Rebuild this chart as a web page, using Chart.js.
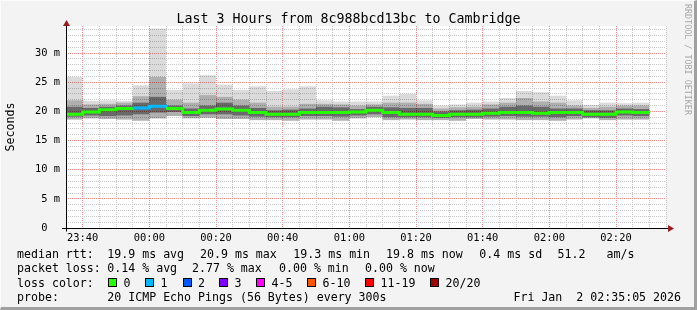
<!DOCTYPE html>
<html>
<head>
<meta charset="utf-8">
<script src="https://cdn.jsdelivr.net/npm/chart.js@4.4.1/dist/chart.umd.min.js"></script>
<style>
  html, body { margin: 0; padding: 0; background: #f3f3f3; }
  #wrap { position: relative; width: 697px; height: 310px; overflow: hidden;
          font-family: "DejaVu Sans Mono", monospace; color: #000; }
  #chart { position: absolute; left: 0; top: 0; }
  .t { position: absolute; white-space: pre; font-size: 11.6px; line-height: 14px; }
  .box { position: absolute; width: 9px; height: 9px; box-sizing: border-box; border: 1px solid #000; }
  #title { position: absolute; left: 0; top: 11px; width: 697px; text-align: center;
           font-size: 13.3px; line-height: 16px; white-space: pre; }
  #mark { position: absolute; left: 683px; top: 4px; writing-mode: vertical-rl;
          font-size: 8.4px; color: #a8a8a8; white-space: pre; }
  #frame { position: absolute; left: 0; top: 0; width: 697px; height: 310px; box-sizing: border-box;
           border-style: solid; border-width: 1px 3px 3px 1px;
           border-color: #fcfcfc #a0a0a0 #a0a0a0 #fcfcfc; pointer-events: none; }
</style>
</head>
<body>
<div id="wrap">
  <canvas id="chart" width="697" height="310"></canvas>
  <div id="title">Last 3 Hours from 8c988bcd13bc to Cambridge</div>
  <div id="mark">RRDTOOL / TOBI OETIKER</div>
  <div id="legend"></div>
  <div id="frame"></div>
</div>
<script>
// 5 minute steps, bar start times
const times = ["23:35", "23:40", "23:45", "23:50", "23:55", "00:00", "00:05", "00:10", "00:15", "00:20",
  "00:25", "00:30", "00:35", "00:40", "00:45", "00:50", "00:55", "01:00", "01:05", "01:10",
  "01:15", "01:20", "01:25", "01:30", "01:35", "01:40", "01:45", "01:50", "01:55", "02:00",
  "02:05", "02:10", "02:15", "02:20", "02:25"];
const tickLabels = ["23:40", "00:00", "00:20", "00:40", "01:00", "01:20", "01:40", "02:00", "02:20"];

// rtt in ms
const medians = [19.5, 19.9, 20.3, 20.5, 20.6, 20.9, 20.5, 19.8, 20.2, 20.4, 20.2, 19.8, 19.5, 19.5, 19.8,
  19.8, 19.8, 19.9, 20.2, 19.8, 19.5, 19.5, 19.3, 19.5, 19.5, 19.7, 19.8, 19.8, 19.7, 19.8,
  19.8, 19.5, 19.5, 19.9, 19.8];
const maxRtt = [25.9, 21.8, 21.9, 21.8, 24.5, 34.2, 23.7, 24.8, 26.2, 24.6, 23.7, 24.3, 23.5, 23.8, 24.3,
  21.9, 21.7, 21.7, 21.7, 22.7, 23.0, 21.9, 21.0, 21.2, 21.5, 21.7, 22.3, 23.5, 23.3, 22.7,
  21.9, 21.1, 21.5, 21.4, 21.5];
const upperRtt = [21.9, 21.2, 21.3, 21.5, 22.6, 25.9, 22.0, 21.5, 22.8, 22.5, 22.0, 21.5, 20.8, 20.8, 21.3,
  21.3, 21.2, 21.0, 21.2, 21.5, 21.5, 21.3, 20.5, 20.7, 20.8, 21.2, 21.5, 22.3, 21.7, 21.5,
  21.0, 20.6, 20.8, 21.0, 21.0];
const hiQ = [20.8, 20.6, 20.8, 21.0, 21.5, 22.5, 21.0, 20.5, 21.0, 21.5, 21.0, 20.6, 20.2, 20.3, 20.5,
  20.8, 20.7, 20.4, 20.8, 20.7, 20.6, 20.6, 20.0, 20.2, 20.3, 20.5, 20.8, 21.0, 20.8, 20.5,
  20.5, 20.2, 20.2, 20.5, 20.4];
const loQ = [19.1, 19.3, 19.2, 19.3, 19.5, 19.8, 19.9, 19.2, 19.5, 19.5, 19.3, 19.1, 19.0, 19.0, 19.2,
  19.2, 19.1, 19.3, 19.5, 19.0, 19.0, 19.0, 18.9, 19.0, 19.0, 19.1, 19.2, 19.1, 19.1, 19.0,
  19.2, 19.0, 18.9, 19.3, 19.2];
const minRtt = [18.6, 18.8, 18.7, 18.6, 18.4, 18.8, 19.2, 18.8, 18.9, 18.7, 18.7, 18.5, 18.5, 18.4, 18.6,
  18.6, 18.4, 18.8, 19.0, 18.5, 18.6, 18.5, 18.5, 18.4, 18.7, 18.6, 18.6, 18.5, 18.5, 18.4,
  18.6, 18.8, 18.5, 18.6, 18.6];
// lost pings out of 20
const lossPings = [0, 0, 0, 0, 1, 1, 0, 0, 0, 0, 0, 0, 0, 0, 0, 0, 0, 0, 0, 0,
  0, 0, 0, 0, 0, 0, 0, 0, 0, 0, 0, 0, 0, 0, 0];

const lossLabels = ["0", "1", "2", "3", "4-5", "6-10", "11-19", "20/20"];
const lossColors = ["#26ff00", "#00b8ff", "#0059ff", "#7e00ff", "#ff00ff", "#ff5500", "#ff0000", "#a10000"];
const lossBounds = [0, 1, 2, 3, 5, 10, 19, 20];

function lossColor(n) {
  for (let k = 0; k < lossBounds.length; k++) {
    if (n <= lossBounds[k]) return lossColors[k];
  }
  return lossColors[lossColors.length - 1];
}

// legend text under the chart
const legendRows = [
  [[17, "median rtt:"], [107.3, "19.9 ms avg"], [200, "20.9 ms max"], [293.3, "19.3 ms min"],
   [386, "19.8 ms now"], [479.3, "0.4 ms sd"], [557.5, "51.2"], [606.5, "am/s"]],
  [[17, "packet loss:"], [107.3, "0.14 % avg"], [192, "2.77 % max"], [279, "0.00 % min"], [365, "0.00 % now"]],
  [[17, "loss color:"]],
  [[17, "probe:"], [107.3, "20 ICMP Echo Pings (56 Bytes) every 300s"]]
];
const rowTops = [247, 261.3, 275.6, 289.9];
const boxLefts = [108, 145, 182.5, 219, 256, 307, 365, 430];

const legend = document.getElementById("legend");
legendRows.forEach((row, r) => {
  row.forEach(([x, s]) => {
    const d = document.createElement("div");
    d.className = "t";
    d.style.left = x + "px";
    d.style.top = rowTops[r] + "px";
    d.textContent = s;
    legend.appendChild(d);
  });
});
lossLabels.forEach((lab, k) => {
  const b = document.createElement("div");
  b.className = "box";
  b.style.left = boxLefts[k] + "px";
  b.style.top = "278px";
  b.style.background = lossColors[k];
  legend.appendChild(b);
  const d = document.createElement("div");
  d.className = "t";
  d.style.left = (boxLefts[k] + 15.5) + "px";
  d.style.top = rowTops[2] + "px";
  d.textContent = lab;
  legend.appendChild(d);
});
const date = document.createElement("div");
date.className = "t";
date.style.right = (697 - 681) + "px";
date.style.top = rowTops[3] + "px";
date.textContent = "Fri Jan  2 02:35:05 2026";
legend.appendChild(date);

const mono = "'DejaVu Sans Mono', monospace";
const xOf = i => i * 5 + 2.5;
const band = (lo, hi) => times.map((t, i) => ({ x: xOf(i), y: [lo[i], hi[i]] }));

const medianPts = times.map((t, i) => ({ x: i * 5, y: medians[i] }));
medianPts.push({ x: times.length * 5, y: medians[medians.length - 1] });

const barCommon = {
  type: "bar", grouped: false, barPercentage: 1, categoryPercentage: 1,
  borderWidth: 0, inflateAmount: 0
};

const plotBg = {
  id: "plotBg",
  beforeDraw(chart) {
    const { ctx, chartArea: a } = chart;
    ctx.save();
    ctx.fillStyle = "#ffffff";
    ctx.fillRect(a.left, a.top, a.right - a.left, a.bottom - a.top);
    ctx.restore();
  },
  afterDraw(chart) {
    const { ctx, chartArea: a } = chart;
    const x0 = a.left + 0.5, y0 = a.bottom + 0.5;
    ctx.save();
    ctx.strokeStyle = "#000";
    ctx.lineWidth = 1;
    ctx.beginPath();
    ctx.moveTo(x0, y0 + 3); ctx.lineTo(x0, a.top - 2);
    ctx.moveTo(a.left - 4, y0); ctx.lineTo(a.right + 4, y0);
    ctx.stroke();
    ctx.fillStyle = "#9a1c1c";
    ctx.beginPath();
    ctx.moveTo(x0, a.top - 6); ctx.lineTo(x0 - 3.5, a.top); ctx.lineTo(x0 + 3.5, a.top);
    ctx.closePath(); ctx.fill();
    ctx.beginPath();
    ctx.moveTo(a.right + 8, y0); ctx.lineTo(a.right + 2, y0 - 3.5); ctx.lineTo(a.right + 2, y0 + 3.5);
    ctx.closePath(); ctx.fill();
    ctx.restore();
  }
};

new Chart(document.getElementById("chart"), {
  type: "bar",
  data: {
    datasets: [
      {
        type: "line", label: "median", data: medianPts, order: 0,
        stepped: "before", borderWidth: 3, pointRadius: 0, fill: false,
        borderCapStyle: "butt", borderJoinStyle: "miter",
        borderColor: lossColors[0],
        segment: { borderColor: c => lossColor(lossPings[Math.min(c.p0DataIndex, lossPings.length - 1)]) }
      },
      { ...barCommon, label: "q", data: band(loQ, hiQ), backgroundColor: "rgba(0,0,0,0.4)", order: 1 },
      { ...barCommon, label: "mid", data: band(minRtt, upperRtt), backgroundColor: "rgba(0,0,0,0.2)", order: 2 },
      { ...barCommon, label: "all", data: band(minRtt, maxRtt), backgroundColor: "rgba(0,0,0,0.14)", order: 3 }
    ]
  },
  options: {
    responsive: false,
    devicePixelRatio: 1,
    animation: false,
    events: [],
    layout: { padding: { top: 26, right: 31, left: 0, bottom: 0 } },
    plugins: { legend: { display: false }, tooltip: { enabled: false } },
    scales: {
      x: {
        type: "linear", min: 0, max: 180, offset: false,
        afterFit: s => { s.height = 82; },
        border: { display: false, dash: [1, 1] },
        grid: {
          offset: false, drawTicks: false,
          color: c => ((c.tick.value - 5) % 20 === 0 ? "#f09090" : "#c8c8c8")
        },
        ticks: {
          stepSize: 5, autoSkip: false, maxRotation: 0, minRotation: 0, padding: 4,
          color: "#000", font: { family: mono, size: 10.4 },
          callback: v => ((v - 5) % 20 === 0 ? tickLabels[(v - 5) / 20] : "")
        }
      },
      y: {
        min: 0, max: 34.65,
        afterFit: s => { s.width = 66; },
        border: { display: false, dash: [1, 1] },
        grid: {
          drawTicks: false,
          color: c => (c.tick.value % 5 === 0 ? "#f09090" : "#c8c8c8")
        },
        ticks: {
          stepSize: 1, autoSkip: false, includeBounds: false, padding: 6,
          color: "#000", font: { family: mono, size: 10.4 },
          callback: v => (v % 5 !== 0 ? "" : v === 0 ? "0  " : v + " m")
        },
        title: {
          display: true, text: "Seconds", color: "#000",
          font: { family: mono, size: 11.6 }, padding: { top: 4, bottom: 0 }
        }
      }
    }
  },
  plugins: [plotBg]
});
</script>
</body>
</html>
